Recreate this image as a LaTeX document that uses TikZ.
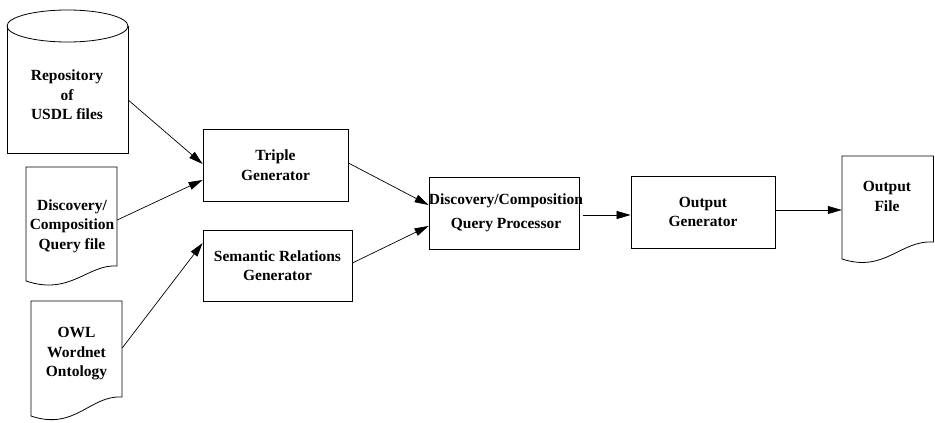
\documentclass[tikz,border=0pt]{standalone}
\usepackage{fontspec}
\setmainfont{Liberation Serif}
\usetikzlibrary{arrows.meta}
\begin{document}
\begin{tikzpicture}[x=1pt,y=-1pt,
  txt/.style={font=\fontsize{15.5}{19.5}\selectfont\bfseries, align=center, inner sep=0pt},
  procbox/.style={draw, line width=0.8pt, rectangle, inner sep=0pt, txt},
  shapebox/.style={draw=none, rectangle, inner sep=0pt},
  outline/.style={draw, line width=0.8pt},
  flow/.style={line width=0.7pt, -{Triangle[length=14pt,width=8pt]}}
]
\useasboundingbox (0,0) rectangle (935,423);

% process boxes
\node[procbox, minimum width=145pt, minimum height=72pt] (triple) at (275.5,165) {Triple\\Generator};
\node[procbox, minimum width=149pt, minimum height=71pt] (sem) at (277.5,265.5) {Semantic Relations\\Generator};
\node[procbox, minimum width=150pt, minimum height=72pt] (dqp) at (504,213) {};
\node[txt] (dqptxt) at (506,213) {Discovery/Composition\\[4pt]Query Processor};
\node[procbox, minimum width=144pt, minimum height=72pt] (outgen) at (703,212) {Output\\Generator};

% repository cylinder
\node[shapebox, minimum width=121pt, minimum height=127pt] (repo) at (67.5,89.5) {};
\draw[outline] (7,26) -- (7,153) -- (128,153) -- (128,26);
\draw[outline] (67.5,26) ellipse [x radius=60.5pt, y radius=16pt];
\node[txt] (repotxt) at (67,95) {Repository\\of\\USDL files};

% discovery query document
\node[shapebox, minimum width=91pt, minimum height=114pt] (disc) at (71.5,224) {};
\draw[outline] (26,167) -- (117,167) -- (117,266) .. controls (88,264) and (70,296) .. (26,281) -- cycle;
\node[txt] (disctxt) at (72,226) {Discovery/\\Composition\\Query file};

% OWL document
\node[shapebox, minimum width=91pt, minimum height=116pt] (owl) at (76.5,359) {};
\draw[outline] (31,301) -- (122,301) -- (122,397) .. controls (90,395) and (75,431) .. (31,416) -- cycle;
\node[txt] (owltxt) at (76.5,354) {OWL\\Wordnet\\Ontology};

% output file document
\node[shapebox, minimum width=91.5pt, minimum height=103pt] (outfile) at (887.75,207.5) {};
\draw[outline] (842,156) -- (933.5,156) -- (933.5,242) .. controls (900,240) and (885,273) .. (842,259) -- cycle;
\node[txt] (outfiletxt) at (887,196.5) {Output\\File};

% connectors
\draw[flow] ([yshift=-10.5pt]repo.east) -- ([yshift=1pt]triple.west);
\draw[flow] ([yshift=4pt]disc.east) -- ([yshift=-15pt]triple.west);
\draw[flow] ([yshift=11pt]owl.east) -- ([yshift=22.5pt]sem.west);
\draw[flow] ([yshift=2pt]triple.east) -- ([yshift=8pt]dqp.west);
\draw[flow] ([yshift=2.5pt]sem.east) -- ([yshift=-13pt]dqp.west);
\draw[flow, shorten <=4pt] ([yshift=-2pt]dqp.east) -- ([yshift=-3pt]outgen.west);
\draw[flow] ([yshift=2pt]outgen.east) -- ([yshift=2pt]outgen.east -| outfile.west);
\end{tikzpicture}
\end{document}
